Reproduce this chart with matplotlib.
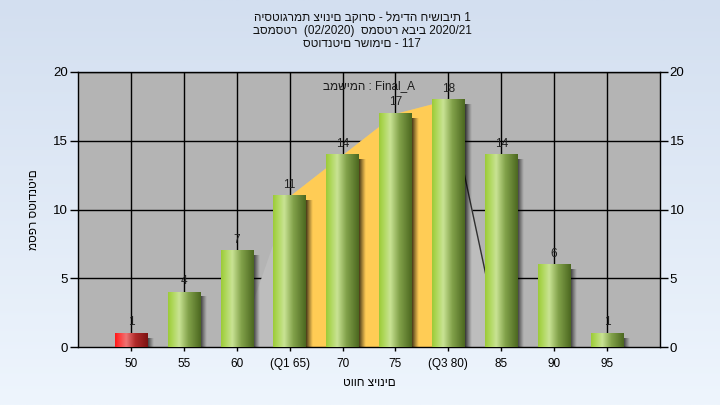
import numpy as np
import matplotlib
matplotlib.use("Agg")
import matplotlib.pyplot as plt
from matplotlib.colors import to_rgb

# ---------------- data ----------------
categories = ["50", "55", "60", "(Q1 65)", "70", "75", "(Q3 80)", "85", "90", "95"]
counts = [1, 4, 7, 11, 14, 17, 18, 14, 6, 1]
failing = [True, False, False, False, False, False, False, False, False, False]
# area behind the bars (index into categories, value)
area_idx = [2, 3, 4, 5, 6, 7]
area_val = [0, 11, 14, 17, 18, 0]
q1_idx = 3
q3_idx = 6

title_lines = ["היסטוגרמת ציונים בקורס - למידה חישובית 1",
               "בסמסטר  (02/2020)  סמסטר אביב 2020/21",
               "סטודנטים רשומים - 117"]
note_text = "במשימה : Final_A"
x_title = "טווח ציונים"
y_title = "מספר סטודנטים"
y_ticks = [0, 5, 10, 15, 20]

plt.rcParams['font.family'] = ['Liberation Sans', 'DejaVu Sans']

fig = plt.figure(figsize=(7.2, 4.05), dpi=100)

# figure background gradient
bg = fig.add_axes([0, 0, 1, 1], zorder=-10)
top_c = np.array(to_rgb('#d3dff0'))
bot_c = np.array(to_rgb('#eef5fd'))
t = np.linspace(0, 1, 256)[:, None]
grad = top_c[None, None, :] * (1 - t[..., None]) + bot_c[None, None, :] * t[..., None]
grad = np.repeat(grad, 2, axis=1)
bg.imshow(grad, aspect='auto', extent=(0, 1, 0, 1), origin='upper')
bg.set_axis_off()

ax = fig.add_axes([78 / 720, 58 / 405, 582 / 720, 275 / 405], zorder=1)
ax.set_facecolor('#b4b4b4')

x = np.arange(1, len(categories) + 1)
w = 0.61


def make_grad(stops, colors, n=64):
    pos = np.linspace(0, 1, n)
    cols = np.array([to_rgb(c) for c in colors])
    out = np.zeros((1, n, 3))
    for k in range(3):
        out[0, :, k] = np.interp(pos, stops, cols[:, k])
    return out


green = make_grad([0, 0.12, 0.34, 0.62, 1.0],
                  ['#9ccb38', '#acd656', '#c9e394', '#82a24a', '#4c6820'])
red = make_grad([0, 0.12, 0.34, 0.62, 1.0],
                ['#ff1818', '#ff3a3a', '#ef7474', '#b02a2a', '#7c1212'])
shadow = np.zeros((1, 32, 4))
shadow[0, :, 3] = np.linspace(0.75, 0.0, 32) ** 1.1

# area behind bars
ax_x = x[area_idx]
ax_y = np.array(area_val)
ax.fill_between(ax_x, 0, ax_y, color='#bdbdbd', zorder=1, linewidth=0)
sel = slice(area_idx.index(q1_idx), area_idx.index(q3_idx) + 1)
ax.fill_between(ax_x[sel], 0, ax_y[sel], color='#ffcc55', zorder=1.5, linewidth=0)
ax.plot(ax_x[-2:], ax_y[-2:], color='#303030', lw=1.0, zorder=1.6)

# grid
for xi in x:
    ax.axvline(xi, color='black', lw=1, zorder=0.5)
for yv in y_ticks[1:]:
    ax.axhline(yv, color='black', lw=1, zorder=0.5)

# bars
for xi, v, f in zip(x, counts, failing):
    g = red if f else green
    ax.imshow(shadow, extent=(xi + w / 2, xi + w / 2 + 0.13, 0, max(v - 0.35, 0)),
              aspect='auto', zorder=2, interpolation='bilinear')
    ax.imshow(g, extent=(xi - w / 2, xi + w / 2, 0, v), aspect='auto',
              zorder=3, interpolation='bilinear')
    ax.annotate(str(v), (xi, v), xytext=(0, 3.5), textcoords='offset points',
                ha='center', va='bottom', fontsize=8.5, color='#202020', zorder=4)

ax.set_xlim(0, len(categories) + 1)
ax.set_ylim(0, 20)
ax.set_xticks(x)
ax.set_xticklabels(categories, fontsize=8.5)
ax.set_yticks(y_ticks)
ax.tick_params(axis='y', left=True, right=True, labelleft=True, labelright=True,
               length=6, width=1, labelsize=9.5, direction='out', pad=1)
ax.tick_params(axis='x', length=3, width=1, pad=5)
for s in ax.spines.values():
    s.set_color('black')
    s.set_linewidth(1)

ax.text(0.5, 0.95, note_text, transform=ax.transAxes, ha='center', va='center',
        fontsize=8.5, color='#1a1a1a', zorder=5)

ax.set_xlabel(x_title, fontsize=8.5, labelpad=5)
ax.set_ylabel(y_title, fontsize=8.5, labelpad=10)

for i, line in enumerate(title_lines):
    fig.text(362 / 720, 1 - (18 + 13 * i) / 405, line, ha='center', va='center',
             fontsize=8.5, color='#111111')

fig.savefig('out.png', dpi=100)
